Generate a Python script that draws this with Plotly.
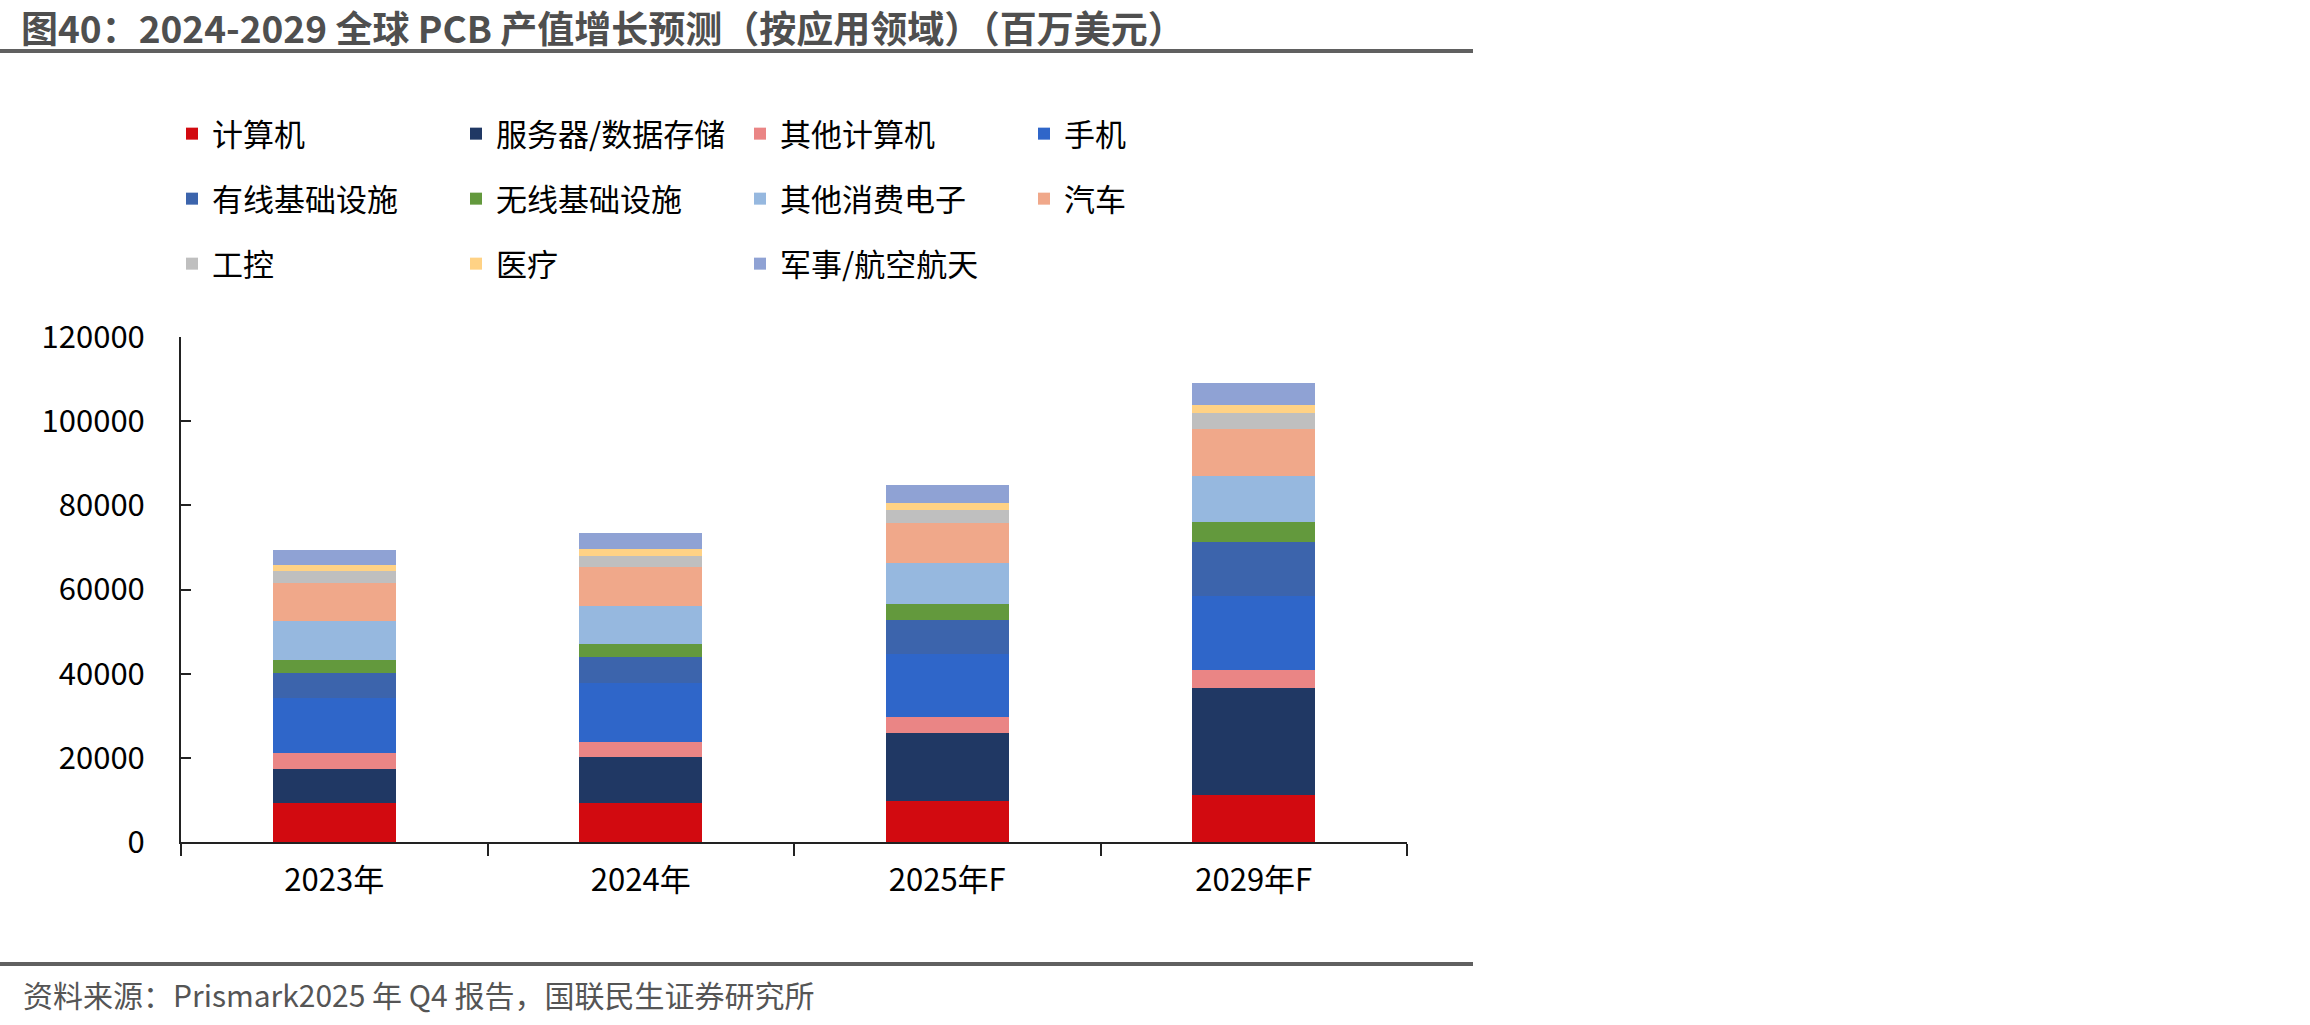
import plotly.graph_objects as go

# ---- data (millions of USD) ----
categories = ["2023年", "2024年", "2025年F", "2029年F"]

computer = [9190, 9270, 9820, 11090]
server_storage = [8160, 11010, 16080, 25500]
other_computer = [3720, 3560, 3800, 4280]
mobile = [13070, 13860, 14890, 17670]
wired_infra = [6020, 6180, 8240, 12750]
wireless_infra = [3090, 3170, 3725, 4750]
other_consumer = [9190, 8950, 9665, 10850]
automotive = [9030, 9270, 9500, 11330]
industrial = [2930, 2770, 3170, 3800]
medical = [1430, 1580, 1660, 1900]
military_aero = [3560, 3800, 4280, 5150]

series_names = ["计算机", "服务器/数据存储", "其他计算机", "手机",
                "有线基础设施", "无线基础设施", "其他消费电子", "汽车",
                "工控", "医疗", "军事/航空航天"]
series_values = [computer, server_storage, other_computer, mobile,
                 wired_infra, wireless_infra, other_consumer, automotive,
                 industrial, medical, military_aero]
series_colors = ["#D20A10", "#203864", "#EA8585", "#2F66C9",
                 "#3C64AC", "#63993D", "#96B8DF", "#F0A88A",
                 "#BFBFBF", "#FFD285", "#8FA2D4"]

y_ticks = [0, 20000, 40000, 60000, 80000, 100000, 120000]

FONT = "Noto Sans CJK SC"
W, H = 2310, 1025
L, R, T, B = 181, 903, 337, 183
PW, PH = W - L - R, H - T - B


def px_x(x):
    return (x - L) / PW


def px_y(y):
    return (H - B - y) / PH


fig = go.Figure()
legend_ids = ["legend"] * 4 + ["legend2"] * 4 + ["legend3"] * 3
for name, vals, col, lg in zip(series_names, series_values, series_colors, legend_ids):
    fig.add_trace(go.Bar(
        x=categories, y=vals, name=name,
        marker=dict(color=col, line=dict(width=0)),
        legend=lg,
    ))

legend_common = dict(
    orientation="h", xref="container", yref="container",
    xanchor="left", yanchor="middle",
    entrywidth=239, entrywidthmode="pixels",
    font=dict(family=FONT, size=31, color="#000000"),
    bgcolor="rgba(0,0,0,0)", borderwidth=0, traceorder="normal",
)
row_y = [134, 199, 264]
fig.update_layout(
    legend=dict(legend_common, x=172 / W, y=1 - row_y[0] / H),
    legend2=dict(legend_common, x=172 / W, y=1 - row_y[1] / H),
    legend3=dict(legend_common, x=172 / W, y=1 - row_y[2] / H),
)

fig.update_layout(
    width=W, height=H,
    margin=dict(l=L, r=R, t=T, b=B, autoexpand=False),
    barmode="stack", bargap=0.6,
    paper_bgcolor="white", plot_bgcolor="white",
    font=dict(family=FONT, color="#000000"),
    title=dict(
        text="<b>图40：2024-2029 全球 PCB 产值增长预测（按应用领域）（百万美元）</b>",
        xref="container", yref="container", x=21 / W, y=1 - 30 / H,
        xanchor="left", yanchor="middle",
        font=dict(family=FONT, size=37, color="#4F4F4F"),
    ),
    xaxis=dict(
        type="category", showline=True, linecolor="#222222", linewidth=2,
        ticks="outside", ticklen=12, tickwidth=1.5, tickcolor="#222222",
        tickson="boundaries", showgrid=False, zeroline=False,
        tickfont=dict(family=FONT, size=31, color="#000000"),
        ticklabelstandoff=10,
    ),
    yaxis=dict(
        range=[0, 120000], tickvals=y_ticks, ticktext=[str(v) for v in y_ticks],
        showline=True, linecolor="#222222", linewidth=2,
        ticks="inside", ticklen=10, tickwidth=1.5, tickcolor="#222222",
        showgrid=False, zeroline=False,
        tickfont=dict(family=FONT, size=31, color="#000000"),
        ticklabelstandoff=28,
    ),
    showlegend=True,
)

# decorative rules under the title and above the source line
for ypix in (51, 964):
    fig.add_shape(type="line", xref="paper", yref="paper",
                  x0=px_x(0), x1=px_x(1473), y0=px_y(ypix), y1=px_y(ypix),
                  line=dict(color="#606060", width=4))

fig.add_annotation(
    text="资料来源：Prismark2025 年 Q4 报告，国联民生证券研究所",
    xref="paper", yref="paper", x=px_x(21), y=px_y(994),
    xanchor="left", yanchor="middle", showarrow=False,
    font=dict(family=FONT, size=30, color="#555555"),
)

fig.write_html("out.html")
